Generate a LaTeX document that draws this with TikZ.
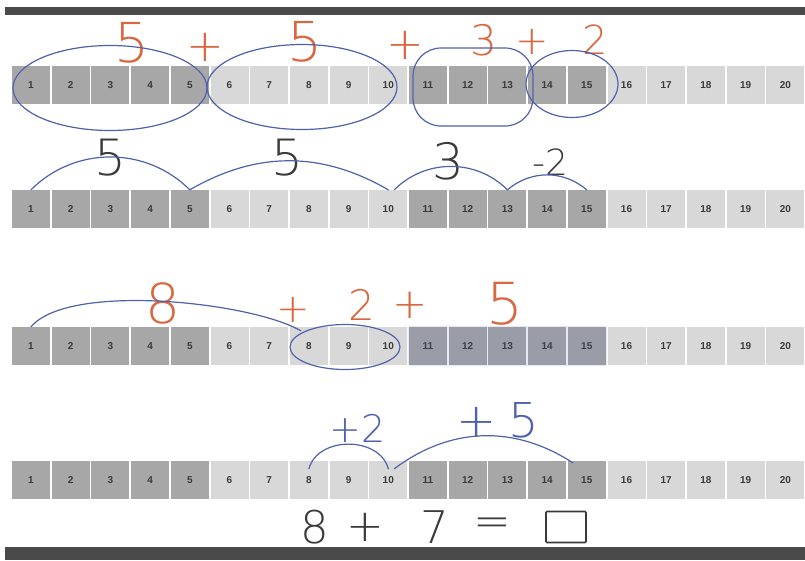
\documentclass[tikz,border=0pt]{standalone}
\usepackage{fontspec}
\setmainfont{Liberation Sans}
\newfontfamily\hw{DejaVu Sans ExtraLight}
\usetikzlibrary{shapes.geometric,fit,calc}
\definecolor{darkc}{HTML}{A7A7A7}
\definecolor{lightc}{HTML}{D8D8D8}
\definecolor{numc}{HTML}{3A3A3A}
\definecolor{barc}{HTML}{4A4A4A}
\definecolor{orangeink}{HTML}{D9673F}
\definecolor{blueink}{HTML}{5062AC}
\definecolor{blackink}{HTML}{3A3A3A}
\begin{document}
\begin{tikzpicture}[x=1pt,y=1pt,
  cellbox/.style={rectangle, minimum width=38pt, minimum height=38pt, inner sep=0pt,
    font=\bfseries\fontsize{10}{10}\selectfont, text=numc},
  bar/.style={fill=barc},
  hwtext/.style={inner sep=0pt, font=\hw\fontsize{#1}{#1}\selectfont},
  orangehw/.style={hwtext=#1, text=orangeink},
  blackhw/.style={hwtext=#1, text=blackink},
  bluehw/.style={hwtext=#1, text=blueink},
  arcsty/.style={draw=blueink, line width=1.2pt, line cap=round},
  loopsty/.style={draw=blueink, line width=1.2pt, ellipse, inner sep=0pt},
  tintsty/.style={fill=blueink, fill opacity=0.14, inner sep=1pt, rounded corners=3pt},
  answerbox/.style={draw=blackink, line width=1.6pt, minimum width=40pt, minimum height=31pt, inner sep=0pt, rounded corners=1pt}
]
\useasboundingbox (0,0) rectangle (805,-560);
\fill[white] (0,0) rectangle (805,-560);
% bars
\fill[bar] (5,-7) rectangle (805,-15);
\fill[bar] (5,-547) rectangle (805,-560);

% number strips
\foreach \r/\yy in {1/85,2/209,3/346,4/480}{
  \foreach \i in {1,...,20}{
    \pgfmathtruncatemacro{\grp}{mod(floor((\i-1)/5),2)}
    \ifnum\grp=0 \def\cc{darkc}\else\def\cc{lightc}\fi
    \node[cellbox, fill=\cc] (n\r-\i) at ({31+39.7*(\i-1)},-\yy) {\i};
  }
}

% ---- row 1 ----
\node[orangehw=55] (t1a) at (132,-43) {5};
\node[orangehw=45] (t1b) at (205,-47) {+};
\node[orangehw=55] (t1c) at (305,-42) {5};
\node[orangehw=45] (t1d) at (405,-45) {+};
\node[orangehw=42] (t1e) at (484,-40) {3};
\node[orangehw=40] (t1f) at (532,-42) {+};
\node[orangehw=40] (t1g) at (595,-40) {2};
\node[loopsty, minimum width=194pt, minimum height=85pt] (L1) at (110,-88) {};
\node[loopsty, minimum width=190pt, minimum height=85pt] (L2) at (302,-87) {};
\node[draw=blueink, line width=1.2pt, rectangle, rounded corners=28pt, minimum width=120pt, minimum height=78pt, inner sep=0pt] (L3) at (473,-87) {};
\node[loopsty, minimum width=92pt, minimum height=67pt] (L4) at (572,-84) {};

% ---- row 2 ----
\node[blackhw=50] (t2a) at (110,-158) {5};
\node[blackhw=50] (t2b) at (287,-158) {5};
\node[blackhw=50] (t2c) at (448,-161) {3};
\node[blackhw=36] (t2d) at (550,-162) {-2};
\draw[arcsty] (n2-1.north) to[bend left=45] (n2-5.north);
\draw[arcsty] (n2-5.north) to[bend left=30] (n2-10.north);
\draw[arcsty] ([xshift=6pt]n2-10.north) to[bend left=45] (n2-13.north);
\draw[arcsty] (n2-13.north) to[bend left=40] (n2-15.north);

% ---- row 3 ----
\node[tintsty, fit=(n3-11)(n3-15)] (tint3) {};
\node[loopsty, minimum width=110pt, minimum height=45pt] (L5) at (345,-347) {};
\node[orangehw=55] (t3a) at (163,-303) {8};
\node[orangehw=40] (t3b) at (293,-310) {+};
\node[orangehw=42] (t3c) at (362,-305) {2};
\node[orangehw=42] (t3d) at (410,-305) {+};
\node[orangehw=58] (t3e) at (505,-304) {5};
\draw[arcsty] (n3-1.north) to[out=50,in=150,looseness=0.55] ([xshift=-8pt,yshift=-4pt]n3-8.north);

% ---- row 4 ----
\node[bluehw=38] (t4a) at (358,-428) {+2};
\node[bluehw=48] (t4b) at (498,-420) {+\hspace{12pt}5};
\draw[arcsty] ([yshift=-8pt]n4-8.north) to[out=75,in=105,looseness=1.1] ([yshift=-8pt]n4-10.north);
\draw[arcsty] ([xshift=6pt,yshift=-8pt]n4-10.north) to[bend left=35] ([xshift=-14pt,yshift=-2pt]n4-15.north);

% ---- equation ----
\node[blackhw=45] (e8) at (315,-527) {8};
\node[blackhw=45] (ep) at (365,-527) {+};
\node[blackhw=45] (e7) at (435,-527) {7};
\node[blackhw=45] (eq) at (492,-527) {=};
\node[answerbox] (ans) at (566,-527) {};
\end{tikzpicture}
\end{document}
